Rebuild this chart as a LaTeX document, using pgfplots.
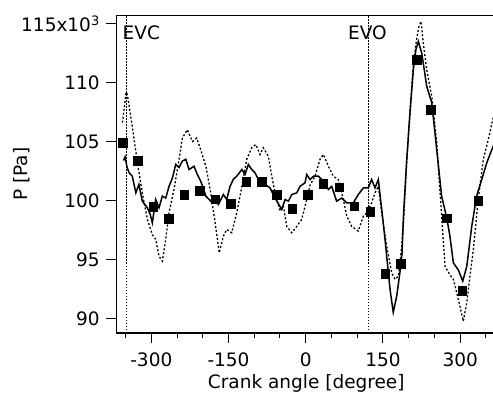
\documentclass[border=0pt]{standalone}
\usepackage{pgfplots}
\pgfplotsset{compat=1.18}
\usepackage{fontspec}
\setmainfont{DejaVu Sans}
\begin{document}
\begin{tikzpicture}
\path[use as bounding box] (0,0) rectangle (493pt,405pt);
\begin{axis}[
  at={(116.3pt,72pt)}, anchor=south west,
  scale only axis, width=379.9pt, height=317.5pt,
  xmin=-368, xmax=370, ymin=88.75, ymax=115.7,
  axis line style={line width=1.1pt},
  xtick={-300,-150,0,150,300},
  minor xtick={-350,-250,-200,-100,-50,50,100,200,250,350},
  ytick={90,95,100,105,110,115},
  yticklabels={90,95,100,105,110,{115x10\textsuperscript{3}}},
  tick align=outside, tick pos=left,
  major tick length=10pt, minor tick length=5pt,
  every tick/.style={line width=1pt, black},
  /pgf/number format/assume math mode=true,
  tick label style={font=\fontsize{18.5}{22}\selectfont},
  xticklabel style={yshift=-6pt},
  yticklabel style={xshift=-3pt},
  label style={font=\fontsize{18.5}{22}\selectfont},
  xlabel={Crank angle [degree]},
  ylabel={P [Pa]},
  x label style={at={(axis description cs:0.5,-0.1575)}, anchor=center},
  y label style={at={(axis description cs:-0.2482,0.5)}, anchor=center},
]
% EVC / EVO markers
\addplot[black, line width=0.9pt, dash pattern=on 1.5pt off 1.5pt] coordinates {(-349,88.75) (-349,115.7)};
\addplot[black, line width=0.9pt, dash pattern=on 1.5pt off 1.5pt] coordinates {(122.5,88.75) (122.5,115.7)};
\node[anchor=west, inner sep=0, font=\fontsize{18.5}{22}\selectfont] at (axis cs:-356,114.24) {EVC};
\node[anchor=west, inner sep=0, font=\fontsize{18.5}{22}\selectfont] at (axis cs:82,114.24) {EVO};
% dotted series
\addplot[black, line width=1.3pt, dash pattern=on 2pt off 2pt] coordinates {
(-356,106.6) (-349,109.2) (-346.6,109.0) (-337,106.3) (-327,103.2) (-317.5,100.65)
(-307.7,98.4) (-298,97.1) (-291.5,96.7) (-285,95.27) (-278.6,94.85) (-272,96.7)
(-265.6,98.96) (-256,100.93) (-246,103.5) (-239.7,105.3) (-230,106.0) (-220,105.0)
(-211.8,105.3) (-204,104.3) (-194,102.9) (-184.6,100.65) (-176,98.1) (-168,95.56)
(-160,96.97) (-153.5,97.54) (-143.8,97.26) (-134,98.96) (-124,101.2) (-114.6,103.5)
(-105,104.47) (-97,104.75) (-88.8,103.9) (-82.4,104.47) (-72.7,103.76) (-66,102.06)
(-59.6,100.65) (-50,99.1) (-43.4,99.52) (-36.9,97.8) (-27.2,97.26) (-17.5,97.8)
(-7.8,98.4) (2,100.08) (8.4,101.3) (18,102.06) (27.8,103.5) (34.3,103.9)
(44,102.9) (53.6,102.06) (63.3,101.78) (73,100.08) (79.7,98.67) (89.4,97.8)
(102,97.4) (112,98.67) (118.5,98.96) (128,99.8) (134.6,100.65) (141,101.2)
(147.6,98.96) (157.4,96.1) (167,93.86) (173.5,93.3) (180,93.57) (186.5,96.1)
(191,99.0) (196,103.2) (203,107.8) (209,111.5) (215,113.6) (220,114.8)
(224,115.2) (228,113.5) (235,111.1) (244.8,108.85) (254.5,104.9) (264,98.67)
(270.6,94.4) (280,93.7) (286.8,93.3) (296.5,91.6) (306,89.75) (312.8,91.3)
(319,93.57) (325.6,95.84) (335,100.08) (345,103.5) (354.8,105.2) (363.4,106.9) (368,107.5)
};
% solid series
\addplot[black, line width=1.5pt] coordinates {
(-354,103.4) (-351,103.7) (-347,102.8) (-343,102.35) (-337,102.06) (-330,100.65)
(-324,101.36) (-317.5,99.94) (-307.7,99.38) (-302,98.8) (-298,98.1) (-291.5,100.08)
(-285,99.38) (-278.6,100.37) (-272,100.2) (-265.6,101.2) (-259,101.9) (-252.6,103.06)
(-246,102.8) (-239.7,103.34) (-233,103.5) (-226.7,102.63) (-217,102.9) (-210.6,102.2)
(-204,101.64) (-194,100.37) (-184.6,99.94) (-179.6,100.3) (-169.8,99.66) (-160,100.5)
(-153.5,100.08) (-147,101.2) (-140.6,101.8) (-134,102.06) (-124,102.63) (-118,102.2)
(-111.5,103.06) (-105,102.63) (-98.5,102.35) (-88.8,101.5) (-79,101.36) (-69.4,101.07)
(-59.6,100.2) (-46.6,99.24) (-40.2,100.08) (-33.7,99.94) (-27.2,100.5) (-17.5,100.65)
(-11,101.2) (-1.4,101.5) (2,102.2) (8.4,101.78) (14.9,102.06) (24.6,102.06)
(34.3,101.64) (44,100.93) (50.5,101.2) (60,99.94) (70,100.2) (79.7,99.8)
(92.6,99.8) (102,100.5) (112,101.07) (121.6,101.07) (128,101.78) (134.6,101.07)
(141,101.78) (147.6,99.24) (154,96.7) (163.8,92.45) (170,90.5) (176.8,91.9)
(183,93.9) (187,95.5) (190,98.8) (196,103.3) (202.6,107.5) (209,111.1)
(214,112.8) (218.8,113.5) (225.4,112.5) (235,109.7) (244.8,108.3) (254.5,104.3)
(264,100.37) (274,98.5) (280,97) (286.8,94.7) (296.5,94.1) (305,93.15)
(312.8,94.4) (322.5,97.8) (332,100.37) (342,101.8) (351.7,103.2) (361.4,104.3) (368,105)
};
% markers
\addplot[only marks, mark=square*, mark size=4.3pt, black, mark options={line width=0.4pt}] coordinates {
(-356,104.9) (-326,103.4) (-296,99.47) (-266,98.47) (-236,100.48) (-206,100.85)
(-176,100.1) (-146,99.7) (-116,101.6) (-86,101.6) (-56,100.5) (-26,99.3)
(4,100.5) (34,101.44) (65,101.13) (94,99.5) (125,99.04) (154,93.8)
(184,94.65) (215,111.97) (243,107.7) (274,98.5) (304,92.36) (335,100.0)
};
\end{axis}
\end{tikzpicture}
\end{document}
